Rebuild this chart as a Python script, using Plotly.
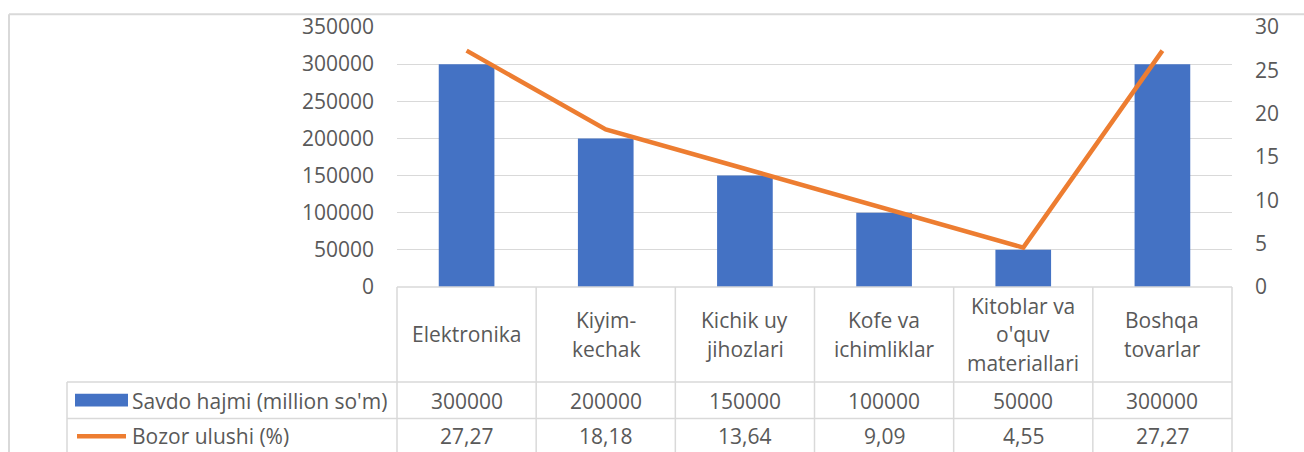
import plotly.graph_objects as go

# ---------------- data ----------------
categories = ["Elektronika", "Kiyim-kechak", "Kichik uy jihozlari",
              "Kofe va ichimliklar", "Kitoblar va o'quv materiallari", "Boshqa tovarlar"]
header_labels = ["Elektronika", "Kiyim-<br>kechak", "Kichik uy<br>jihozlari",
                 "Kofe va<br>ichimliklar", "Kitoblar va<br>o'quv<br>materiallari",
                 "Boshqa<br>tovarlar"]
savdo_hajmi = [300000, 200000, 150000, 100000, 50000, 300000]
bozor_ulushi = [27.27, 18.18, 13.64, 9.09, 4.55, 27.27]
series_names = ["Savdo hajmi (million so'm)", "Bozor ulushi (%)"]
left_ticks = [0, 50000, 100000, 150000, 200000, 250000, 300000, 350000]
right_ticks = [0, 5, 10, 15, 20, 25, 30]

# ---------------- layout geometry (pixels) ----------------
W, H = 1304, 452
PL, PR, PT, PB = 397, 1232, 24, 287          # plot area
FONT = "Open Sans"
TXT = "#595959"
GRID = "#d9d9d9"
BLUE = "#4472C4"
ORANGE = "#ED7D31"
FS = 21


def px(x):
    return (x - PL) / (PR - PL)


def py(y):
    return (PB - y) / (PB - PT)


fig = go.Figure()
fig.add_trace(go.Bar(x=categories, y=savdo_hajmi, name=series_names[0],
                     marker=dict(color=BLUE, line=dict(width=0)), width=0.4))
fig.add_trace(go.Scatter(x=categories, y=bozor_ulushi, name=series_names[1],
                         yaxis="y2", mode="lines",
                         line=dict(color=ORANGE, width=4.5)))

shapes = []
line_style = dict(color=GRID, width=1.5)
n = len(categories)
# table horizontal lines
for y_pix, x_start in [(PB, PL), (383, 67), (420, 67)]:
    shapes.append(dict(type="line", xref="paper", yref="paper",
                       x0=px(x_start), x1=1, y0=py(y_pix), y1=py(y_pix), line=line_style))
# column separators
for i in range(n + 1):
    shapes.append(dict(type="line", xref="paper", yref="paper",
                       x0=i / n, x1=i / n, y0=py(PB), y1=py(470), line=line_style))
# left column of table
shapes.append(dict(type="line", xref="paper", yref="paper",
                   x0=px(67), x1=px(67), y0=py(383), y1=py(470), line=line_style))
# outer chart frame
shapes.append(dict(type="line", xref="paper", yref="paper",
                   x0=px(9), x1=px(1320), y0=py(11), y1=py(11),
                   line=dict(color="#d9d9d9", width=2)))
shapes.append(dict(type="line", xref="paper", yref="paper",
                   x0=px(9), x1=px(9), y0=py(11), y1=py(470),
                   line=dict(color="#d9d9d9", width=2)))
# legend keys
shapes.append(dict(type="rect", xref="paper", yref="paper",
                   x0=px(75), x1=px(128), y0=py(408), y1=py(395),
                   fillcolor=BLUE, line=dict(width=0)))
shapes.append(dict(type="line", xref="paper", yref="paper",
                   x0=px(77), x1=px(126), y0=py(438), y1=py(438),
                   line=dict(color=ORANGE, width=4.5)))

annotations = []
font = dict(family=FONT, size=FS, color=TXT)
LINE_H = 29
for cat, lab in zip(categories, header_labels):
    lines = lab.split("<br>")
    k = len(lines)
    for j, t in enumerate(lines):
        yc = 335 + (j - (k - 1) / 2) * LINE_H
        annotations.append(dict(x=cat, xref="x", y=py(yc), yref="paper", text=t,
                                showarrow=False, font=font, xanchor="center",
                                yanchor="middle"))
for cat, v, p in zip(categories, savdo_hajmi, bozor_ulushi):
    annotations.append(dict(x=cat, xref="x", y=py(402), yref="paper", text=str(v),
                            showarrow=False, font=font, yanchor="middle"))
    annotations.append(dict(x=cat, xref="x", y=py(438), yref="paper",
                            text=f"{p:.2f}".replace(".", ","),
                            showarrow=False, font=font, yanchor="middle"))
annotations.append(dict(x=px(130), xref="paper", y=py(402), yref="paper",
                        text=series_names[0], showarrow=False, font=font,
                        xanchor="left", yanchor="middle"))
annotations.append(dict(x=px(130), xref="paper", y=py(438), yref="paper",
                        text=series_names[1], showarrow=False, font=font,
                        xanchor="left", yanchor="middle"))

fig.update_layout(
    width=W, height=H,
    margin=dict(l=PL, r=W - PR, t=PT, b=H - PB, pad=0),
    paper_bgcolor="white", plot_bgcolor="white",
    showlegend=False,
    font=dict(family=FONT, size=FS, color=TXT),
    xaxis=dict(showticklabels=False, showgrid=False, zeroline=False,
               showline=False, ticks="", range=[-0.5, n - 0.5]),
    yaxis=dict(range=[0, 350000], tickvals=left_ticks, ticktext=[str(t) for t in left_ticks],
               showgrid=True, gridcolor=GRID, gridwidth=1.3, zeroline=False,
               showline=False, ticks="", ticklabelstandoff=22,
               tickfont=dict(family=FONT, size=FS, color=TXT)),
    yaxis2=dict(range=[0, 30], tickvals=right_ticks, overlaying="y", side="right",
                showgrid=False, zeroline=False, showline=False, ticks="",
                ticklabelstandoff=22,
                tickfont=dict(family=FONT, size=FS, color=TXT)),
    shapes=shapes, annotations=annotations,
)

fig.write_html("out.html", config={"displayModeBar": False},
               post_script="document.body.style.margin='0';document.body.style.overflow='hidden';")
